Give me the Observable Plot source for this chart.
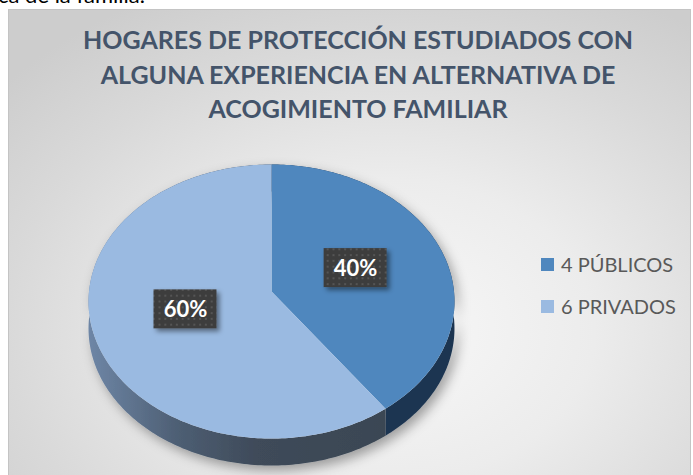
<!DOCTYPE html>
<html>
<head>
<meta charset="utf-8">
<script src="https://cdn.jsdelivr.net/npm/d3@7"></script>
<script src="https://cdn.jsdelivr.net/npm/@observablehq/plot@0.6"></script>
<style>
  html, body { margin: 0; padding: 0; }
  body { width: 693px; height: 475px; overflow: hidden; background: #ffffff; position: relative; font-family: Lato, "Open Sans", sans-serif; }
  #doc { position: absolute; left: 0; top: 0; width: 693px; height: 8px; overflow: hidden; }
  #doc span { position: absolute; left: -2px; top: -17px; font-size: 22px; line-height: 24px; color: #000; white-space: nowrap; }
  #frame { position: absolute; left: 8px; top: 9px; width: 681px; height: 470px; border: 1px solid #c4c4c4;
    background: radial-gradient(ellipse 75% 80% at 56% 68%, #f8f8f8 0%, #ececec 40%, #d9d9d9 75%, #cdcdcd 100%); }
  #title { position: absolute; left: 58px; top: 22px; width: 600px; text-align: center; color: #44546a; font-weight: 700; font-size: 25px; line-height: 34.5px; white-space: nowrap; }
  #legend { position: absolute; left: 541px; top: 250px; color: #595959; font-size: 20px; }
  .row { position: absolute; left: 0; height: 28px; white-space: nowrap; }
  .sw { position: absolute; left: 0; top: 8px; width: 13px; height: 13px; }
  .lt { position: absolute; left: 20px; top: 0; line-height: 28px; }
  #chart { position: absolute; left: 0; top: 0; }
</style>
</head>
<body>
<div id="doc"><span>ca de la familia.</span></div>
<div id="frame"></div>
<div id="title"></div>
<div id="legend"></div>
<div id="chart"></div>
<script>
// ---- data ----
const titleLines = ["HOGARES DE PROTECCIÓN ESTUDIADOS CON", "ALGUNA EXPERIENCIA EN ALTERNATIVA DE", "ACOGIMIENTO FAMILIAR"];
const categories = ["4 PÚBLICOS", "6 PRIVADOS"];
const counts = [4, 6];
const percentLabels = ["40%", "60%"];
const topColors = ["#4f87be", "#9abae1"];
const sideColors = ["#1f3651", "url(#sideGrad)"];

// ---- title & legend (HTML) ----
const titleEl = document.getElementById("title");
titleLines.forEach(t => { const d = document.createElement("div"); d.textContent = t; titleEl.appendChild(d); });
const legendEl = document.getElementById("legend");
categories.forEach((c, i) => {
  const r = document.createElement("div"); r.className = "row"; r.style.top = (i * 42) + "px";
  const s = document.createElement("div"); s.className = "sw"; s.style.background = topColors[i];
  const l = document.createElement("div"); l.className = "lt"; l.textContent = c;
  r.appendChild(s); r.appendChild(l); legendEl.appendChild(r);
});

// ---- pie geometry (unit circle with light perspective) ----
const P = 0.073;          // perspective strength
const DEPTH = 0.198;      // thickness in y-units
const total = d3.sum(counts);
function proj(theta, r) {
  const a = r * Math.sin(theta), b = -r * Math.cos(theta);
  const d = 1 - P * b;
  return [a / d, b / d];
}
const slices = [];
let acc = 0;
counts.forEach((v, i) => {
  const start = acc / total * 2 * Math.PI;
  acc += v;
  const end = acc / total * 2 * Math.PI;
  slices.push({i, start, end, mid: (start + end) / 2});
});

const topPts = [], sidePts = [];
slices.forEach(s => {
  const n = Math.max(2, Math.ceil((s.end - s.start) / (Math.PI / 180)));
  const arc = d3.range(n + 1).map(k => proj(s.start + (s.end - s.start) * k / n, 1));
  topPts.push({slice: s.i, x: 0, y: 0, fill: topColors[s.i]});
  arc.forEach(([x, y]) => topPts.push({slice: s.i, x, y, fill: topColors[s.i]}));
  arc.forEach(([x, y]) => sidePts.push({slice: s.i, x, y, fill: sideColors[s.i]}));
  arc.slice().reverse().forEach(([x, y]) => sidePts.push({slice: s.i, x, y: y + DEPTH, fill: sideColors[s.i]}));
});

const LABEL_R = 0.49;
const CX = 271, RX = 182.5, CY = 291, RY = 136.3;
const halfW = 31.5 / RX, halfH = 19.5 / RY;
const labelData = slices.map(s => {
  const [x, y] = proj(s.mid, LABEL_R);
  return {x, y, x1: x - halfW, x2: x + halfW, y1: y - halfH, y2: y + halfH, text: percentLabels[s.i]};
});

const svg = Plot.plot({
  width: 693, height: 475,
  margin: 0,
  style: {background: "transparent", overflow: "visible"},
  x: {domain: [-1, 1], range: [CX - RX, CX + RX], axis: null},
  y: {domain: [-1, 1], range: [CY - RY, CY + RY], axis: null},
  color: {type: "identity"},
  marks: [
    Plot.line(sidePts, {x: "x", y: "y", z: "slice", fill: "fill", stroke: "none"}),
    Plot.line(topPts, {x: "x", y: "y", z: "slice", fill: "fill", stroke: "none"}),
    Plot.rect(labelData, {x1: "x1", x2: "x2", y1: "y1", y2: "y2", fill: "url(#dots)", dy: -3}),
    Plot.text(labelData, {x: "x", y: "y", text: "text", fill: "#ffffff", fontSize: 22, fontWeight: 700, fontFamily: "Lato, sans-serif", dy: -2})
  ]
});

const defs = d3.select(svg).insert("defs", ":first-child");
const g = defs.append("linearGradient").attr("id", "sideGrad").attr("gradientUnits", "userSpaceOnUse")
  .attr("x1", 88).attr("x2", 390).attr("y1", 0).attr("y2", 0);
[[0, "#6e86a6"], [0.3, "#4d5e73"], [0.55, "#3f4b5a"], [1, "#3a4653"]].forEach(([o, c]) => g.append("stop").attr("offset", o).attr("stop-color", c));
const pat = defs.append("pattern").attr("id", "dots").attr("patternUnits", "userSpaceOnUse").attr("width", 5.8).attr("height", 5.8);
pat.append("rect").attr("width", 5.8).attr("height", 5.8).attr("fill", "#3e3e3e");
pat.append("rect").attr("x", 2).attr("y", 2).attr("width", 1.8).attr("height", 1.8).attr("fill", "#575757");
const f1 = defs.append("filter").attr("id", "pieShadow").attr("x", "-20%").attr("y", "-20%").attr("width", "140%").attr("height", "150%");
f1.append("feDropShadow").attr("dx", 4).attr("dy", 5).attr("stdDeviation", 6).attr("flood-color", "#000").attr("flood-opacity", 0.35);
const f2 = defs.append("filter").attr("id", "boxShadow").attr("x", "-30%").attr("y", "-30%").attr("width", "170%").attr("height", "170%");
f2.append("feDropShadow").attr("dx", 3).attr("dy", 3).attr("stdDeviation", 2.5).attr("flood-color", "#000").attr("flood-opacity", 0.45);
const lineGroups = d3.select(svg).selectAll('g[aria-label="line"]').nodes();
if (lineGroups[0]) d3.select(lineGroups[0]).attr("filter", "url(#pieShadow)");
d3.select(svg).select('g[aria-label="rect"]').attr("filter", "url(#boxShadow)");

document.getElementById("chart").appendChild(svg);
</script>
</body>
</html>
